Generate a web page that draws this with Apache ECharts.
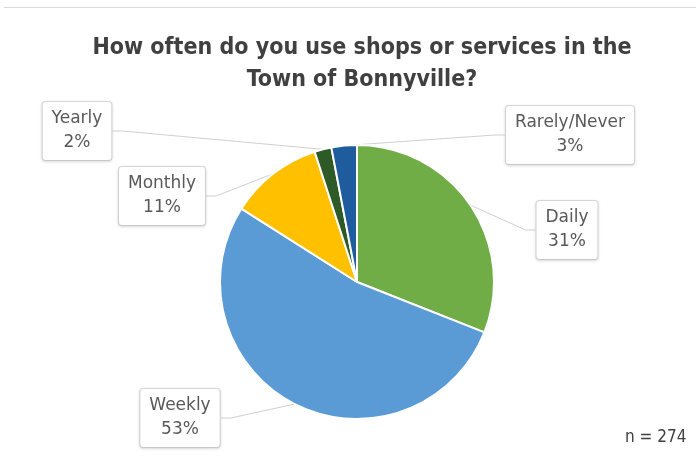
<!DOCTYPE html>
<html>
<head>
<meta charset="utf-8">
<script src="https://cdn.jsdelivr.net/npm/echarts@6/dist/echarts.min.js"></script>
<style>
  html, body { margin: 0; padding: 0; background: #ffffff; }
  #chart { width: 696px; height: 462px; }
</style>
</head>
<body>
<div id="chart"></div>
<script>
const titleText = 'How often do you use shops or services in the\nTown of Bonnyville?';
const categories = ['Daily', 'Weekly', 'Monthly', 'Yearly', 'Rarely/Never'];
const percents = [31, 53, 11, 2, 3];
const sampleNote = 'n = 274';

const sliceColors = ['#70AD47', '#5B9BD5', '#FFC000', '#2E5A27', '#1F5C9E'];
const labelCenters = [[567, 230], [180, 418], [162, 196], [77, 131], [570, 135]];

const chart = echarts.init(document.getElementById('chart'), null, { renderer: 'canvas' });

const option = {
  backgroundColor: '#ffffff',
  animation: false,
  title: {
    text: titleText,
    left: 357,
    textAlign: 'center',
    top: 27,
    textStyle: {
      fontFamily: '"DejaVu Sans Condensed", sans-serif',
      fontWeight: 'bold',
      fontSize: 23,
      lineHeight: 32,
      color: '#404040'
    }
  },
  graphic: [
    { type: 'line', shape: { x1: 4, y1: 7.5, x2: 696, y2: 7.5 }, style: { stroke: '#d9d9d9', lineWidth: 1 } },
    {
      type: 'text', left: 625, top: 429,
      style: {
        text: sampleNote,
        font: '17px "DejaVu Sans Condensed", sans-serif',
        fill: '#404040'
      }
    }
  ],
  series: [{
    type: 'pie',
    center: [357, 282],
    radius: 137,
    startAngle: 90,
    clockwise: true,
    data: categories.map((c, i) => ({ name: c, value: percents[i], itemStyle: { color: sliceColors[i] } })),
    itemStyle: { borderColor: '#ffffff', borderWidth: 2 },
    label: {
      show: true,
      position: 'outside',
      formatter: p => p.name + '\n' + p.value + '%',
      fontFamily: '"DejaVu Sans", sans-serif',
      fontSize: 17,
      lineHeight: 24,
      color: '#595959',
      align: 'center',
      backgroundColor: '#ffffff',
      borderColor: '#d9d9d9',
      borderWidth: 1,
      borderRadius: 3,
      padding: [5, 9],
      shadowColor: 'rgba(0,0,0,0.12)',
      shadowBlur: 3,
      shadowOffsetY: 1
    },
    labelLine: {
      show: true,
      length: 10,
      length2: 10,
      lineStyle: { color: '#d0d0d0', width: 1 }
    },
    labelLayout: function (params) {
      const c = labelCenters[params.dataIndex];
      return { x: c[0], y: c[1], align: 'center', verticalAlign: 'middle' };
    },
    emphasis: { disabled: true }
  }]
};
chart.setOption(option);
</script>
</body>
</html>
